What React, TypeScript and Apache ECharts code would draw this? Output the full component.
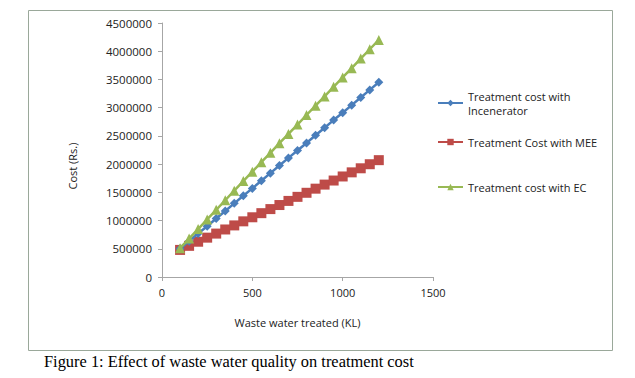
import React, { useEffect, useRef } from "react";
import * as echarts from "echarts";

const xValues = [100, 150, 200, 250, 300, 350, 400, 450, 500, 550, 600, 650, 700, 750, 800, 850, 900, 950, 1000, 1050, 1100, 1150, 1200];
const incenerator = [500000, 635000, 770000, 900000, 1035000, 1170000, 1305000, 1440000, 1570000, 1705000, 1840000, 1975000, 2110000, 2240000, 2375000, 2510000, 2645000, 2780000, 2910000, 3045000, 3180000, 3315000, 3450000];
const mee = [480000, 552000, 625000, 697000, 769000, 842000, 914000, 986000, 1058000, 1131000, 1203000, 1275000, 1348000, 1420000, 1492000, 1565000, 1637000, 1709000, 1781000, 1854000, 1926000, 1998000, 2070000];
const ec = [510000, 680000, 850000, 1020000, 1190000, 1360000, 1530000, 1700000, 1865000, 2035000, 2200000, 2370000, 2535000, 2700000, 2870000, 3035000, 3200000, 3370000, 3535000, 3700000, 3870000, 4035000, 4200000];

const seriesNames = ["Treatment cost with\nIncenerator", "Treatment Cost with MEE", "Treatment cost with EC"];
const FONT = "Open Sans";

export default function App() {
  const ref = useRef<HTMLDivElement>(null);
  useEffect(() => {
    if (!ref.current) return;
    const chart = echarts.init(ref.current, null, { renderer: "svg" });
    const pair = (ys: number[]) => xValues.map((x, i) => [x, ys[i]]);
    const legendBase = {
      orient: "vertical" as const,
      left: 437,
      padding: 0,
      itemWidth: 25,
      itemHeight: 8,
      itemGap: 4,
      textStyle: { fontFamily: FONT, fontSize: 11, color: "#222", lineHeight: 14 },
    };
    chart.setOption({
      animation: false,
      backgroundColor: "#fff",
      grid: { left: 162, right: 202, top: 23, bottom: 101 },
      xAxis: {
        type: "value",
        min: 0,
        max: 1500,
        interval: 500,
        name: "Waste water treated (KL)",
        nameLocation: "middle",
        nameGap: 40,
        nameTextStyle: { fontFamily: FONT, fontSize: 11, color: "#222" },
        axisLine: { show: true, lineStyle: { color: "#a6a6a6", width: 1 } },
        axisTick: { show: true, length: 4, lineStyle: { color: "#a6a6a6" } },
        axisLabel: { fontFamily: FONT, fontSize: 11, color: "#222", margin: 10, formatter: (v: number) => String(v) },
        splitLine: { show: false },
      },
      yAxis: {
        type: "value",
        min: 0,
        max: 4500000,
        interval: 500000,
        axisLine: { show: true, lineStyle: { color: "#a6a6a6", width: 1 } },
        axisTick: { show: true, length: 4, lineStyle: { color: "#a6a6a6" } },
        axisLabel: { fontFamily: FONT, fontSize: 11.5, color: "#222", margin: 10, formatter: (v: number) => String(v) },
        splitLine: { show: false },
      },
      legend: [
        { ...legendBase, top: 89, data: [seriesNames[0]] },
        { ...legendBase, top: 135, data: [seriesNames[1]] },
        { ...legendBase, top: 180, data: [seriesNames[2]] },
      ],
      graphic: [
        {
          type: "rect",
          shape: { x: 28.5, y: 10.5, width: 584, height: 340 },
          style: { fill: "none", stroke: "#9aa89a", lineWidth: 1 },
          z: -1,
        },
        {
          type: "text",
          x: 72,
          y: 166,
          rotation: Math.PI / 2,
          style: {
            text: "Cost (Rs.)",
            fontFamily: FONT,
            fontSize: 11,
            fill: "#222",
            align: "center",
            verticalAlign: "middle",
          },
        },
        {
          type: "text",
          left: 44,
          top: 353,
          style: {
            text: "Figure 1: Effect of waste water quality on treatment cost",
            fontFamily: "Liberation Serif",
            fontSize: 16.4,
            fill: "#000",
          },
        },
      ],
      series: [
        {
          name: seriesNames[0],
          type: "line",
          data: pair(incenerator),
          symbol: "diamond",
          symbolSize: 9,
          itemStyle: { color: "#4A7EBB" },
          lineStyle: { color: "#4A7EBB", width: 2.5 },
          z: 3,
        },
        {
          name: seriesNames[1],
          type: "line",
          data: pair(mee),
          symbol: "rect",
          symbolSize: 10,
          itemStyle: { color: "#BE4B48" },
          lineStyle: { color: "#BE4B48", width: 2.5 },
          z: 2,
        },
        {
          name: seriesNames[2],
          type: "line",
          data: pair(ec),
          symbol: "triangle",
          symbolSize: 10,
          itemStyle: { color: "#98B954" },
          lineStyle: { color: "#98B954", width: 2.5 },
          z: 4,
        },
      ],
    });
    return () => chart.dispose();
  }, []);
  return <div ref={ref} style={{ position: "absolute", left: 0, top: 0, width: 635, height: 378 }} />;
}
